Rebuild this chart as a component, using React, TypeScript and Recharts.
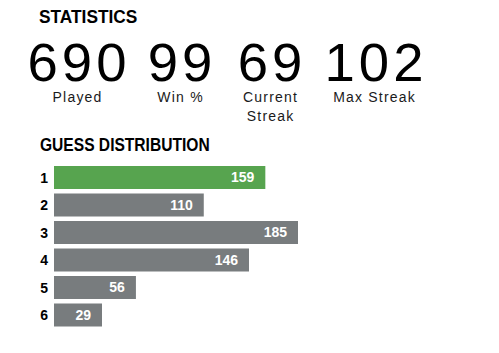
import { BarChart, Bar, XAxis, YAxis, Cell, LabelList } from 'recharts'

const guesses = ['1', '2', '3', '4', '5', '6']
const counts = [159, 110, 185, 146, 56, 29]
const currentGuess = '1'

const statValues = ['690', '99', '69', '102']
const statLabels = ['Played', 'Win %', 'Current Streak', 'Max Streak']
const statCenters = [77, 180, 270, 374]

const GREEN = '#57a44f'
const GRAY = '#787c7e'
const SANS = "'Liberation Sans', Arial, sans-serif"

// bars are drawn from the plot's left edge so short rows keep some padding
function PaddedBar(props: any) {
  const { x, y, width, height, fill, background } = props
  const left = background?.x ?? 54
  return <rect x={left} y={y} width={x + width - left} height={height} fill={fill} />
}

export default function App() {
  const data = guesses.map((g, i) => ({ guess: g, count: counts[i] }))
  // condensed bold headings: no narrow face installed, so squeeze the regular one
  const heading = {
    position: 'absolute' as const, fontFamily: SANS, fontWeight: 700, fontSize: 19, lineHeight: 1,
    color: '#000', transform: 'scaleX(0.82)', transformOrigin: 'left top', whiteSpace: 'nowrap' as const,
  }

  return (
    <div style={{ position: 'relative', width: 499, height: 353, background: '#fff', fontFamily: SANS }}>
      <style>{'body{margin:0}'}</style>
      <div style={{ ...heading, left: 39, top: 6.5, transform: 'scaleX(0.91)' }}>STATISTICS</div>

      {statValues.map((v, i) => (
        <div key={v + i} style={{ position: 'absolute', left: statCenters[i] - 60 + 2, top: 40, width: 120, textAlign: 'center', fontSize: 54.5, lineHeight: 0.85, letterSpacing: 4, color: '#000' }}>
          {v}
        </div>
      ))}
      {statLabels.map((l, i) => (
        <div key={l} style={{ position: 'absolute', left: statCenters[i] - 45 + 0.6, top: 87.7, width: 90, textAlign: 'center', fontSize: 14, lineHeight: '19px', letterSpacing: 1.2, color: '#1a1a1b' }}>
          {l}
        </div>
      ))}

      <div style={{ ...heading, left: 40, top: 134.5 }}>GUESS DISTRIBUTION</div>

      <div style={{ position: 'absolute', left: 0, top: 160 }}>
        <BarChart width={320} height={175} data={data} layout="vertical" barSize={23}
          margin={{ top: 4, right: 22, bottom: 6, left: 0 }}>
          <XAxis type="number" hide domain={[-9.2, 'dataMax']} />
          <YAxis type="category" dataKey="guess" width={54} axisLine={false} tickLine={false} tickSize={0} tickMargin={6}
            tick={{ fontSize: 14, fontWeight: 700, fill: '#000', fontFamily: SANS }} />
          <Bar dataKey="count" isAnimationActive={false} shape={PaddedBar}>
            {data.map(d => <Cell key={d.guess} fill={d.guess === currentGuess ? GREEN : GRAY} />)}
            <LabelList dataKey="count" position="insideRight" offset={11} fill="#fff"
              style={{ fontSize: 14, fontWeight: 700, fontFamily: SANS }} />
          </Bar>
        </BarChart>
      </div>
    </div>
  )
}
